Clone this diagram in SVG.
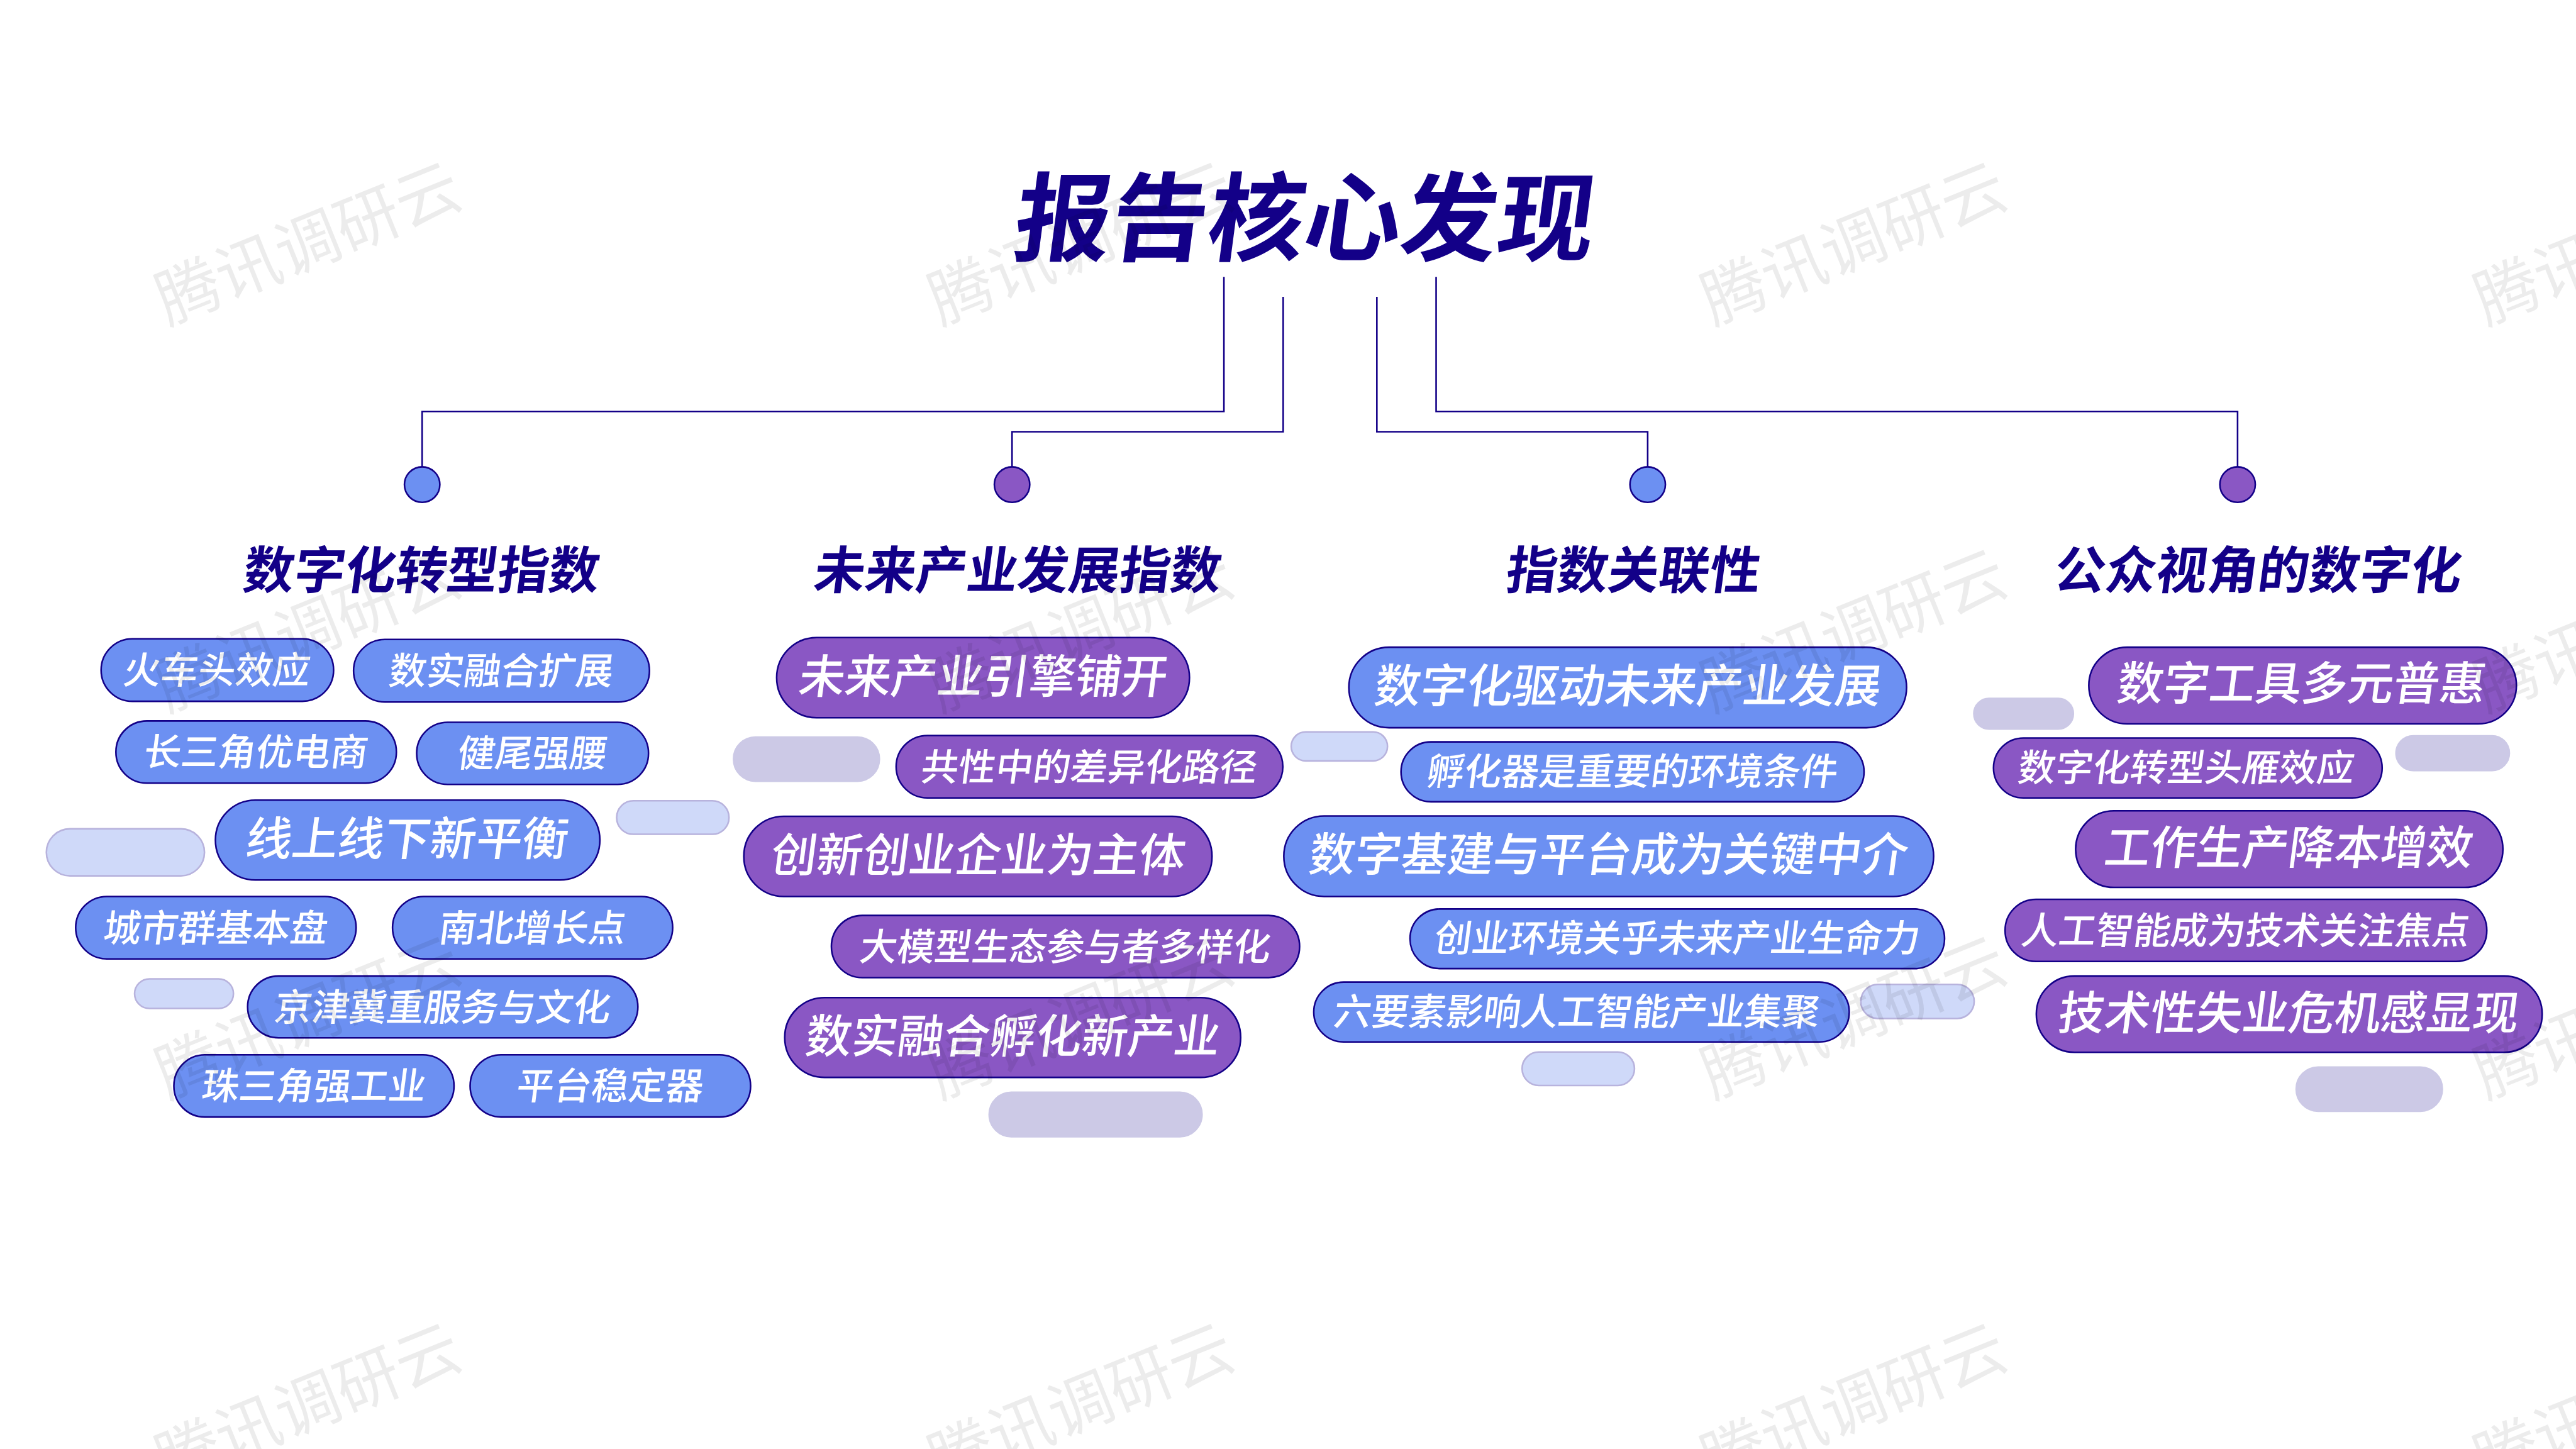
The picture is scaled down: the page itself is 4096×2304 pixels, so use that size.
<svg xmlns="http://www.w3.org/2000/svg" width="4096" height="2304" viewBox="0 0 4096 2304">
<style>
text{font-family:"Noto Sans CJK SC","Noto Sans",sans-serif;text-anchor:middle}
.b{fill:#6C90F2;stroke:#130088;stroke-width:5}
.p{fill:#8A57C4;stroke:#130088;stroke-width:5}
.gb{fill:#CFD9F9;stroke:#B8B3DD;stroke-width:5}
.gp{fill:#CCC9E6;stroke:#CCC9E6;stroke-width:5}
.l{fill:#fff;font-size:143px;font-weight:500}
.s{fill:#fff;font-size:116px;font-weight:500}
.h{fill:#130088;font-size:158px;font-weight:700}
.t{fill:#130088;font-size:300px;font-weight:700}
.w{fill:#000;fill-opacity:.075;font-size:200px;font-weight:400}
.c{fill:none;stroke:#130088;stroke-width:5}
</style>
<rect width="4096" height="2304" fill="#fff"/>
<g transform="scale(0.512)">
<g id="decor">
<rect class="gb" x="144" y="2574" width="491" height="146" rx="73"/>
<rect class="gb" x="1915" y="2487" width="349" height="104" rx="52"/>
<rect class="gb" x="418" y="3040" width="307" height="92" rx="46"/>
<rect class="gp" x="2278" y="2289" width="453" height="137" rx="68"/>
<rect class="gp" x="3072" y="3392" width="661" height="138" rx="69"/>
<rect class="gb" x="4010" y="2273" width="299" height="90" rx="45"/>
<rect class="gb" x="5779" y="3057" width="352" height="106" rx="53"/>
<rect class="gb" x="4727" y="3267" width="349" height="104" rx="52"/>
<rect class="gp" x="6130" y="2169" width="309" height="95" rx="47"/>
<rect class="gp" x="7441" y="2285" width="352" height="108" rx="54"/>
<rect class="gp" x="7131" y="3314" width="454" height="137" rx="68"/>
</g>
<g id="connectors">
<path class="c" d="M3801 860V1278H1311V1450"/>
<path class="c" d="M3985 922V1341H3143V1450"/>
<path class="c" d="M4276 922V1341H5117V1450"/>
<path class="c" d="M4460 860V1278H6949V1450"/>
</g>
<g id="title"><text class="t" transform="translate(4040 788) skewX(-7.5)">报告核心发现</text></g>
<g id="hub1"><circle class="b" cx="1311" cy="1505" r="55"/><text class="h" transform="translate(1303 1828) skewX(-7.5)">数字化转型指数</text></g>
<g id="hub2"><circle class="p" cx="3143" cy="1505" r="55"/><text class="h" transform="translate(3155 1828) skewX(-7.5)">未来产业发展指数</text></g>
<g id="hub3"><circle class="b" cx="5117" cy="1505" r="55"/><text class="h" transform="translate(5067 1828) skewX(-7.5)">指数关联性</text></g>
<g id="hub4"><circle class="p" cx="6949" cy="1505" r="55"/><text class="h" transform="translate(7007 1828) skewX(-7.5)">公众视角的数字化</text></g>

<g id="a1"><rect class="b" x="314" y="1984" width="722" height="194" rx="97"/><text class="s" transform="translate(669 2123) skewX(-7.5)">火车头效应</text></g>
<g id="a2"><rect class="b" x="1098" y="1986" width="919" height="194" rx="97"/><text class="s" transform="translate(1552 2125) skewX(-7.5)">数实融合扩展</text></g>
<g id="a3"><rect class="b" x="360" y="2239" width="871" height="193" rx="96"/><text class="s" transform="translate(790 2377) skewX(-7.5)">长三角优电商</text></g>
<g id="a4"><rect class="b" x="1294" y="2243" width="720" height="193" rx="96"/><text class="s" transform="translate(1649 2381) skewX(-7.5)">健尾强腰</text></g>
<g id="a5"><rect class="b" x="669" y="2485" width="1194" height="248" rx="124"/><text class="l" transform="translate(1259 2657) skewX(-7.5)">线上线下新平衡</text></g>
<g id="a6"><rect class="b" x="235" y="2784" width="871" height="194" rx="97"/><text class="s" transform="translate(665 2923) skewX(-7.5)">城市群基本盘</text></g>
<g id="a7"><rect class="b" x="1219" y="2784" width="870" height="194" rx="97"/><text class="s" transform="translate(1649 2923) skewX(-7.5)">南北增长点</text></g>
<g id="a8"><rect class="b" x="769" y="3031" width="1212" height="192" rx="96"/><text class="s" transform="translate(1370 3169) skewX(-7.5)">京津冀重服务与文化</text></g>
<g id="a9"><rect class="b" x="540" y="3276" width="870" height="193" rx="96"/><text class="s" transform="translate(970 3414) skewX(-7.5)">珠三角强工业</text></g>
<g id="a10"><rect class="b" x="1460" y="3276" width="871" height="193" rx="96"/><text class="s" transform="translate(1890 3414) skewX(-7.5)">平台稳定器</text></g>

<g id="b1"><rect class="p" x="2412" y="1980" width="1282" height="249" rx="124"/><text class="l" transform="translate(3048 2153) skewX(-7.5)">未来产业引擎铺开</text></g>
<g id="b2"><rect class="p" x="2783" y="2284" width="1201" height="194" rx="97"/><text class="s" transform="translate(3378 2423) skewX(-7.5)">共性中的差异化路径</text></g>
<g id="b3"><rect class="p" x="2310" y="2535" width="1454" height="249" rx="124"/><text class="l" transform="translate(3032 2708) skewX(-7.5)">创新创业企业为主体</text></g>
<g id="b4"><rect class="p" x="2582" y="2843" width="1454" height="193" rx="96"/><text class="s" transform="translate(3304 2983) skewX(-7.5)">大模型生态参与者多样化</text></g>
<g id="b5"><rect class="p" x="2437" y="3098" width="1416" height="248" rx="124"/><text class="l" transform="translate(3140 3270) skewX(-7.5)">数实融合孵化新产业</text></g>

<g id="c1"><rect class="b" x="4189" y="2010" width="1732" height="250" rx="125"/><text class="l" transform="translate(5050 2182) skewX(-7.5)">数字化驱动未来产业发展</text></g>
<g id="c2"><rect class="b" x="4351" y="2304" width="1438" height="186" rx="93"/><text class="s" transform="translate(5065 2438) skewX(-7.5)">孵化器是重要的环境条件</text></g>
<g id="c3"><rect class="b" x="3987" y="2534" width="2018" height="250" rx="125"/><text class="l" transform="translate(4990 2706) skewX(-7.5)">数字基建与平台成为关键中介</text></g>
<g id="c4"><rect class="b" x="4379" y="2823" width="1660" height="185" rx="92"/><text class="s" transform="translate(5204 2956) skewX(-7.5)">创业环境关乎未来产业生命力</text></g>
<g id="c5"><rect class="b" x="4080" y="3050" width="1663" height="186" rx="93"/><text class="s" transform="translate(4892 3184) skewX(-7.5)">六要素影响人工智能产业集聚</text></g>

<g id="d1"><rect class="p" x="6487" y="2010" width="1328" height="238" rx="119"/><text class="l" transform="translate(7142 2174) skewX(-7.5)">数字工具多元普惠</text></g>
<g id="d2"><rect class="p" x="6191" y="2292" width="1207" height="186" rx="93"/><text class="s" transform="translate(6785 2426) skewX(-7.5)">数字化转型头雁效应</text></g>
<g id="d3"><rect class="p" x="6446" y="2518" width="1327" height="238" rx="119"/><text class="l" transform="translate(7102 2684) skewX(-7.5)">工作生产降本增效</text></g>
<g id="d4"><rect class="p" x="6227" y="2793" width="1496" height="193" rx="96"/><text class="s" transform="translate(6969 2931) skewX(-7.5)">人工智能成为技术关注焦点</text></g>
<g id="d5"><rect class="p" x="6324" y="3031" width="1571" height="237" rx="118"/><text class="l" transform="translate(7102 3198) skewX(-7.5)">技术性失业危机感显现</text></g>

<g id="watermark">
<text class="w" transform="translate(983 822) rotate(-22)">腾讯调研云</text>
<text class="w" transform="translate(3383 822) rotate(-22)">腾讯调研云</text>
<text class="w" transform="translate(5783 822) rotate(-22)">腾讯调研云</text>
<text class="w" transform="translate(8183 822) rotate(-22)" id="w4">腾讯调研云</text>
<text class="w" transform="translate(983 2024) rotate(-22)">腾讯调研云</text>
<text class="w" transform="translate(3383 2024) rotate(-22)">腾讯调研云</text>
<text class="w" transform="translate(5783 2024) rotate(-22)">腾讯调研云</text>
<text class="w" transform="translate(8183 2024) rotate(-22)">腾讯调研云</text>
<text class="w" transform="translate(983 3226) rotate(-22)">腾讯调研云</text>
<text class="w" transform="translate(3383 3226) rotate(-22)">腾讯调研云</text>
<text class="w" transform="translate(5783 3226) rotate(-22)">腾讯调研云</text>
<text class="w" transform="translate(8183 3226) rotate(-22)">腾讯调研云</text>
<text class="w" transform="translate(983 4428) rotate(-22)">腾讯调研云</text>
<text class="w" transform="translate(3383 4428) rotate(-22)">腾讯调研云</text>
<text class="w" transform="translate(5783 4428) rotate(-22)">腾讯调研云</text>
<text class="w" transform="translate(8183 4428) rotate(-22)">腾讯调研云</text>
</g>
</g>
</svg>
